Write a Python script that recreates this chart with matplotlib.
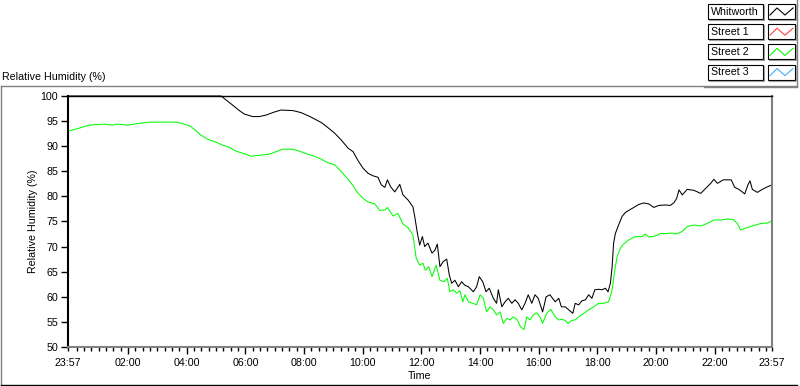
import matplotlib
matplotlib.use("Agg")
import matplotlib.pyplot as plt
from matplotlib.patches import Rectangle

# time in clock hours (23:57 of the day before = -0.05)
whit_t = [-0.05, 5.17, 5.34, 5.56, 5.79, 5.96, 6.25, 6.47, 6.70, 6.98, 7.21, 7.61, 7.89,
          8.20, 8.36, 8.59, 8.81, 9.04, 9.27, 9.50, 9.67, 9.84, 10.01, 10.18, 10.35,
          10.52, 10.63, 10.75, 10.84, 10.95, 11.09, 11.26, 11.37, 11.54, 11.71, 11.77,
          11.86, 11.94, 12.03, 12.11, 12.22, 12.36, 12.46, 12.54, 12.63, 12.74, 12.86,
          12.95, 13.03, 13.14, 13.26, 13.37, 13.48, 13.60, 13.77, 13.88, 13.97, 14.09,
          14.20, 14.31, 14.45, 14.56, 14.62, 14.74, 14.85, 14.96, 15.08, 15.19, 15.30,
          15.42, 15.53, 15.64, 15.76, 15.87, 15.98, 16.13, 16.25, 16.38, 16.56, 16.68,
          16.77, 16.90, 17.02, 17.16, 17.24, 17.36, 17.47, 17.59, 17.70, 17.81, 17.91,
          18.04, 18.15, 18.27, 18.36, 18.44, 18.50, 18.55, 18.61, 18.72, 18.84, 18.95,
          19.18, 19.41, 19.58, 19.75, 19.92, 20.09, 20.31, 20.48, 20.60, 20.70, 20.78,
          20.89, 21.06, 21.29, 21.52, 21.74, 21.86, 21.97, 22.09, 22.29, 22.56, 22.68,
          22.82, 23.02, 23.13, 23.20, 23.28, 23.45, 23.62, 23.79, 23.95]
whit_rh = [100.0, 100.0, 99.2, 98.2, 97.1, 96.4, 95.9, 95.9, 96.2, 96.8, 97.2, 97.1, 96.7,
           95.9, 95.4, 94.7, 93.7, 92.6, 91.2, 89.6, 88.9, 87.1, 85.6, 84.6, 84.1,
           83.8, 82.3, 81.8, 83.3, 81.9, 80.9, 82.4, 80.3, 79.3, 77.9, 76.0,
           72.7, 70.3, 72.0, 70.0, 70.7, 68.7, 69.3, 70.5, 66.0, 67.0, 67.5,
           64.3, 62.7, 63.3, 62.0, 63.0, 62.3, 62.0, 61.0, 62.0, 64.0, 63.0,
           61.0, 61.7, 59.7, 58.7, 61.4, 58.0, 59.0, 59.7, 58.7, 59.4, 58.7,
           57.4, 58.7, 60.4, 58.7, 60.4, 59.7, 57.0, 60.0, 60.4, 59.0, 59.7,
           58.0, 58.0, 57.4, 56.7, 58.7, 58.4, 59.2, 59.4, 60.4, 59.7, 61.4,
           61.5, 61.4, 61.7, 61.0, 62.7, 66.0, 70.7, 72.6, 74.3, 76.0, 76.8,
           77.6, 78.4, 78.7, 78.5, 77.8, 78.2, 78.3, 78.2, 78.7, 79.6, 81.3,
           80.3, 81.4, 81.2, 80.6, 81.9, 82.6, 83.4, 82.6, 83.3, 83.3, 81.8,
           81.4, 80.5, 82.3, 83.1, 81.4, 80.8, 81.4, 81.9, 82.3]

st2_t = [-0.05, 0.15, 0.33, 0.50, 0.67, 1.18, 1.46, 1.63, 1.97, 2.43, 2.77, 3.56, 3.79,
         4.02, 4.14, 4.31, 4.48, 4.71, 5.00, 5.22, 5.45, 5.68, 5.91, 6.19, 6.47, 6.81,
         7.04, 7.27, 7.61, 7.84, 8.13, 8.36, 8.59, 8.81, 9.04, 9.27, 9.50, 9.67, 9.84,
         10.01, 10.18, 10.41, 10.58, 10.75, 10.84, 11.03, 11.20, 11.37, 11.54, 11.71,
         11.82, 11.94, 12.05, 12.13, 12.25, 12.36, 12.50, 12.63, 12.77, 12.88, 12.97,
         13.09, 13.20, 13.31, 13.41, 13.48, 13.60, 13.75, 13.88, 14.00, 14.11, 14.22,
         14.34, 14.45, 14.56, 14.68, 14.79, 14.91, 15.02, 15.13, 15.27, 15.38, 15.50,
         15.59, 15.70, 15.81, 15.93, 16.04, 16.13, 16.27, 16.41, 16.56, 16.68, 16.79,
         16.90, 17.00, 17.13, 17.24, 17.36, 17.53, 17.70, 17.87, 18.04, 18.21, 18.38,
         18.50, 18.59, 18.67, 18.78, 18.89, 19.06, 19.29, 19.52, 19.63, 19.75, 19.97,
         20.14, 20.37, 20.54, 20.68, 20.89, 21.06, 21.29, 21.52, 21.74, 21.97, 22.20,
         22.43, 22.63, 22.77, 22.88, 23.05, 23.28, 23.57, 23.79, 23.95]
st2_rh = [93.0, 93.3, 93.6, 93.9, 94.2, 94.4, 94.2, 94.4, 94.2, 94.6, 94.8, 94.8, 94.6,
          94.2, 93.9, 93.1, 92.2, 91.4, 90.8, 90.2, 89.8, 89.0, 88.6, 88.0, 88.2, 88.4,
          88.9, 89.4, 89.4, 89.0, 88.4, 88.0, 87.4, 86.7, 86.3, 84.9, 83.4, 82.1, 80.6,
          79.6, 78.9, 78.5, 77.2, 77.3, 77.8, 76.1, 76.6, 74.5, 73.8, 72.3,
          67.7, 66.3, 66.7, 65.3, 66.0, 64.0, 66.3, 63.3, 63.0, 63.7, 61.0,
          61.4, 60.7, 61.2, 59.0, 60.4, 59.0, 58.7, 58.4, 60.4, 59.7, 57.0,
          58.0, 57.4, 56.4, 57.0, 54.7, 55.7, 55.4, 56.0, 55.4, 54.0, 53.5,
          56.0, 55.4, 56.4, 56.8, 56.0, 54.7, 56.7, 57.5, 56.0, 55.4, 55.5,
          55.3, 54.7, 55.3, 55.4, 56.0, 56.7, 57.4, 58.0, 58.7, 58.7, 59.0,
          61.4, 65.3, 68.0, 69.7, 70.5, 71.3, 72.0, 72.0, 72.5, 71.9, 72.1,
          72.6, 72.6, 72.7, 72.5, 73.0, 74.0, 74.3, 74.1, 74.6, 75.3, 75.3,
          75.5, 75.4, 74.6, 73.3, 73.7, 74.1, 74.6, 74.7, 75.1]

tick_hours = [-0.05, 2, 4, 6, 8, 10, 12, 14, 16, 18, 20, 22, 23.95]
tick_labels = ["23:57", "02:00", "04:00", "06:00", "08:00", "10:00", "12:00",
               "14:00", "16:00", "18:00", "20:00", "22:00", "23:57"]
minor_hours = [q / 4 for q in range(0, 96) if q % 8 != 0]

legend_names = ["Whitworth", "Street 1", "Street 2", "Street 3"]
legend_colors = ["black", "#ff4040", "#00ff00", "#40b0ff"]


def main():

    plt.rcParams['font.family'] = ['Liberation Sans', 'DejaVu Sans']
    plt.rcParams['font.size'] = 7.7

    fig = plt.figure(figsize=(8, 3.86), dpi=100)

    # overlay in pixel units for the frame and legend
    ov = fig.add_axes([0, 0, 1, 1], zorder=0)
    ov.set_xlim(0, 800)
    ov.set_ylim(386, 0)
    ov.axis("off")

    ov.plot([1, 797], [86, 86], color="#808080", lw=1)
    ov.plot([1, 1], [86, 385], color="#808080", lw=1)
    ov.plot([1, 797], [385, 385], color="black", lw=1)
    ov.plot([797, 797], [0, 86], color="#808080", lw=1)
    ov.plot([704, 797], [87, 87], color="#808080", lw=1)

    ov.text(2, 77, "Relative Humidity (%)", ha="left", va="center")

    for i in range(len(legend_names)):
        top = 4 + i * 20.2
        ov.add_patch(Rectangle((708, top), 55, 15, fill=False, edgecolor="black", lw=0.8))
        ov.plot([709, 764, 764], [top + 16, top + 16, top + 1], color="#a0a0a0", lw=0.8)
        ov.text(711, top + 7.8, legend_names[i], ha="left", va="center")
        ov.add_patch(Rectangle((768, top), 27, 15, facecolor="white", edgecolor="black", lw=0.8))
        ov.plot([769, 796, 796], [top + 16, top + 16, top + 1], color="#a0a0a0", lw=0.8)
        ov.plot([770, 777, 785, 793], [top + 11, top + 4, top + 11, top + 4],
                color=legend_colors[i], lw=0.8)

    ax = fig.add_axes([68 / 800, 1 - 347 / 386, 704 / 800, 251 / 386], zorder=1)

    ax.plot(st2_t, st2_rh, color="#00ff00", lw=0.75)
    ax.plot(whit_t, whit_rh, color="black", lw=0.75, clip_on=False)

    ax.set_xlim(-0.05, 23.95)
    ax.set_ylim(50, 100)
    ax.set_yticks(range(50, 101, 5))
    ax.set_xticks(tick_hours)
    ax.set_xticklabels(tick_labels)
    ax.set_xticks(minor_hours, minor=True)

    ax.tick_params(axis="y", length=5, width=1, pad=2, color="black")
    ax.tick_params(axis="x", which="major", length=5, width=1, pad=3)
    ax.tick_params(axis="x", which="minor", length=3, width=1)
    for tk in [ax.xaxis.get_major_ticks()[0], ax.xaxis.get_major_ticks()[-1]]:
        tk.tick1line.set_markersize(3)

    ax.spines["left"].set_color("black")
    ax.spines["left"].set_linewidth(1.5)
    ax.spines["top"].set_color("black")
    ax.spines["top"].set_linewidth(1)
    ax.spines["right"].set_color("#808080")
    ax.spines["right"].set_linewidth(1.5)
    ax.spines["bottom"].set_color("#808080")
    ax.spines["bottom"].set_linewidth(1.5)

    fig.text(33 / 800, 1 - 221 / 386, "Relative Humidity (%)", rotation=90,
             ha="center", va="center")
    fig.text(420 / 800, 1 - 376 / 386, "Time", ha="center", va="center")

    fig.savefig("out.png", dpi=100)


if __name__ == "__main__":

    main()
